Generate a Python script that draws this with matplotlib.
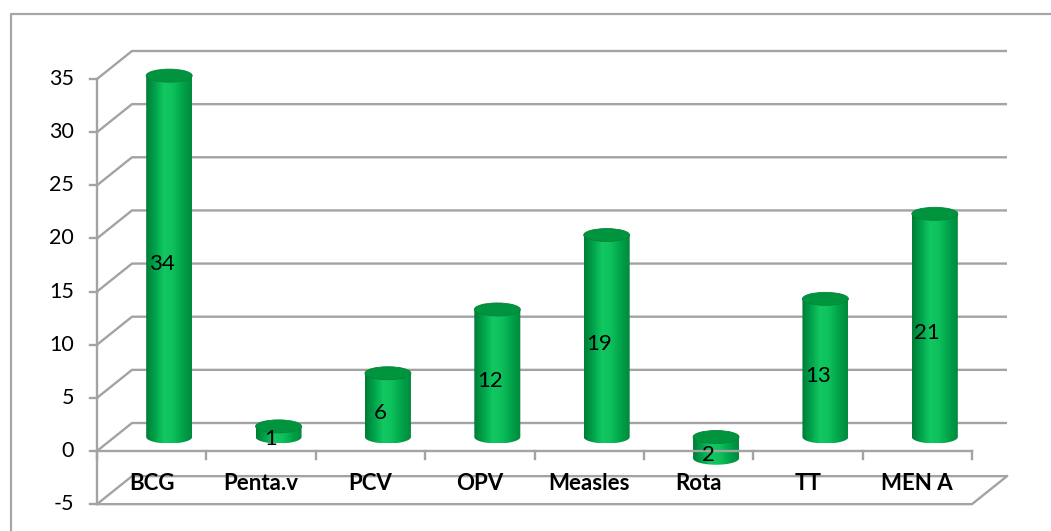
import numpy as np
import matplotlib
matplotlib.use("Agg")
import matplotlib.pyplot as plt
from matplotlib.patches import Ellipse, PathPatch
from matplotlib.path import Path
from matplotlib.colors import LinearSegmentedColormap

# Vaccine counts
categories = ["BCG", "Penta.v", "PCV", "OPV", "Measles", "Rota", "TT", "MEN A"]
values = [34, 1, 6, 12, 19, -2, 13, 21]
y_ticks = [-5, 0, 5, 10, 15, 20, 25, 30, 35]

plt.rcParams["font.family"] = ["Lato", "DejaVu Sans"]

W, H, DPI = 1051, 531, 100
fig = plt.figure(figsize=(W / DPI, H / DPI), dpi=DPI)
ax = fig.add_axes([0, 0, 1, 1])

# Plot-area placement (pixels from the left / top of the canvas)
x_left, x_right = 97, 972
y_zero, y_top = 451, 79
n = len(categories)
px_cat = (x_right - x_left) / n
px_val = (y_zero - y_top) / max(y_ticks)
ax.set_xlim(-x_left / px_cat, (W - x_left) / px_cat)
ax.set_ylim(-(H - y_zero) / px_val, y_zero / px_val)
ax.axis("off")

# Oblique depth offset of the 3-D walls
DX = 35 / px_cat
DY = 28 / px_val

grid_c = "#a3a3a3"
grid_lw = 1.7

# Back wall gridlines with their left-side diagonals and axis ticks
for v in y_ticks:
    ax.plot([0, DX, n + DX], [v, v + DY, v + DY], color=grid_c, lw=grid_lw,
            solid_capstyle="butt", zorder=1)
    ax.plot([-7 / px_cat, 0], [v, v], color=grid_c, lw=grid_lw, zorder=1)
    ax.annotate(str(v), xy=(0, v), xytext=(-23, 0), textcoords="offset pixels",
                ha="right", va="center", fontsize=15.5, color="#000000")

# Front vertical axis and the bottom (-5) plane
ax.plot([0, 0], [y_ticks[0], y_ticks[-1]], color=grid_c, lw=grid_lw, zorder=1)
ax.plot([0, n, n + DX], [y_ticks[0], y_ticks[0], y_ticks[0] + DY],
        color=grid_c, lw=grid_lw, zorder=1)

# Cylinder shading
body_cmap = LinearSegmentedColormap.from_list(
    "cyl", ["#007c36", "#00a34b", "#12c862", "#0dbf5a", "#00a24a", "#008a3d"])
grad = np.linspace(0, 1, 256).reshape(1, -1)

a = 23 / px_cat   # half width
b = 6.5 / px_val  # half height of the end ellipses
t = np.linspace(np.pi, 2 * np.pi, 60)

for i, v in enumerate(values):
    cx = i + 0.5 + DX / 2
    top = max(v, 0) + DY / 2
    bot = min(v, 0) + DY / 2
    verts = [(cx - a, top), (cx - a, bot)]
    verts += list(zip(cx + a * np.cos(t), bot + b * np.sin(t)))
    verts += [(cx + a, top), (cx - a, top)]
    codes = [Path.MOVETO] + [Path.LINETO] * (len(verts) - 2) + [Path.CLOSEPOLY]
    body = PathPatch(Path(verts, codes), transform=ax.transData,
                     facecolor="none", edgecolor="none")
    ax.add_patch(body)
    im = ax.imshow(grad, cmap=body_cmap, aspect="auto", interpolation="bilinear",
                   extent=[cx - a, cx + a, bot - b, top], zorder=3)
    im.set_clip_path(body)
    cap = Ellipse((cx, top), 2 * a, 2 * b, facecolor="#00943f",
                  edgecolor="#00863a", lw=0.6, zorder=4)
    ax.add_patch(cap)
    ax.text(i + 0.5 + 0.09, v / 2 + 0.6, f"{abs(v)}", ha="center", va="center",
            fontsize=16, color="#000000", zorder=6)

# Front edge of the floor with category ticks
ax.plot([0, n], [0, 0], color=grid_c, lw=grid_lw, zorder=5)
for k in range(n + 1):
    ax.plot([k, k], [0, -8 / px_val], color=grid_c, lw=grid_lw, zorder=5)

# Category labels on the lower plane
for i, c in enumerate(categories):
    ax.text(i + 0.5, -3.1, c, ha="center", va="center", fontsize=16,
            fontweight="bold", color="#000000", zorder=6)

ax.set_xlim(-x_left / px_cat, (W - x_left) / px_cat)
ax.set_ylim(-(H - y_zero) / px_val, y_zero / px_val)

# Chart border
fx, fy = 11 / W, 1 - 14 / H
ax.plot([fx, fx, 1.0], [0.0, fy, fy], transform=ax.transAxes, color="#a6a6a6",
        lw=1.6, zorder=0, clip_on=False)

fig.savefig("out.png", dpi=DPI)
